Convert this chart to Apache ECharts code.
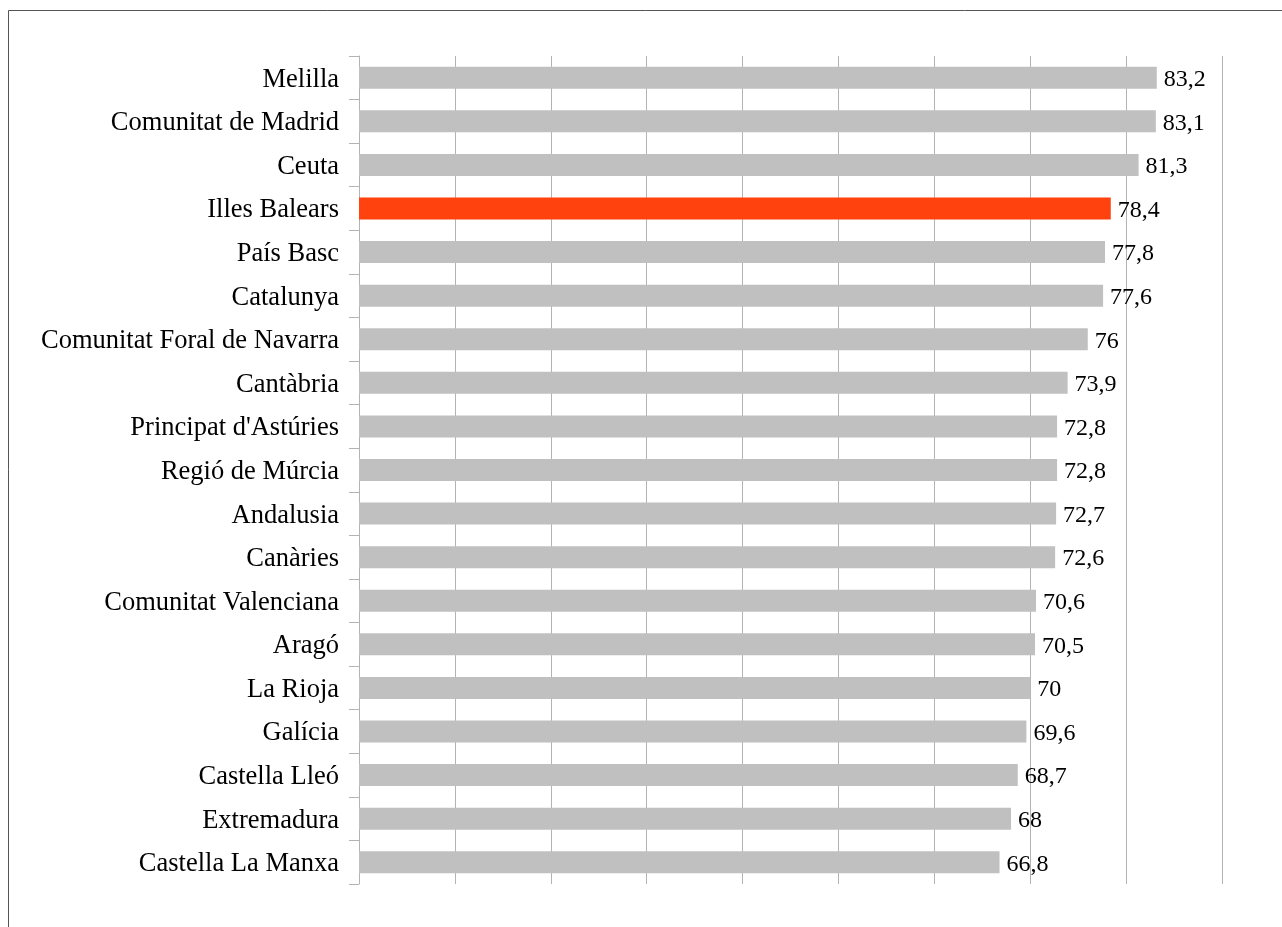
<!DOCTYPE html>
<html>
<head>
<meta charset="utf-8">
<script src="https://cdn.jsdelivr.net/npm/echarts@6/dist/echarts.min.js"></script>
<style>html,body{margin:0;padding:0;background:#fff}#c{width:1282px;height:927px}</style>
</head>
<body>
<div id="c"></div>
<script>
const categories = ["Melilla","Comunitat de Madrid","Ceuta","Illes Balears","País Basc","Catalunya","Comunitat Foral de Navarra","Cantàbria","Principat d'Astúries","Regió de Múrcia","Andalusia","Canàries","Comunitat Valenciana","Aragó","La Rioja","Galícia","Castella Lleó","Extremadura","Castella La Manxa"];
const values = [83.2,83.1,81.3,78.4,77.8,77.6,76,73.9,72.8,72.8,72.7,72.6,70.6,70.5,70,69.6,68.7,68,66.8];
const highlight = "Illes Balears";

const chart = echarts.init(document.getElementById('c'), null, {renderer:'canvas'});
chart.setOption({
  animation:false,
  backgroundColor:'#fff',
  graphic:[{type:'rect',shape:{x:8.5,y:10.5,width:1400,height:1000},style:{fill:'none',stroke:'#555',lineWidth:1},silent:true}],
  grid:{left:359,right:60,top:56,bottom:43,containLabel:false},
  xAxis:{type:'value',min:0,max:90,interval:10,
    axisLine:{show:false},axisTick:{show:false},axisLabel:{show:false},
    splitLine:{show:true,lineStyle:{color:'#b3b3b3',width:1}}},
  yAxis:{type:'category',data:categories,inverse:true,
    axisLine:{show:true,lineStyle:{color:'#b3b3b3',width:1}},
    axisTick:{show:true,length:10,lineStyle:{color:'#b3b3b3'}},
    axisLabel:{margin:20,color:'#000',fontFamily:'Liberation Serif',fontSize:26.5,
      formatter:v=>'{a|'+v+'}',
      rich:{a:{color:'#000',fontFamily:'Liberation Serif',fontSize:26.5,padding:[4,0,0,0]}}}},
  series:[{type:'bar',barWidth:22,
    data:values.map((v,i)=>({value:v,itemStyle:{color:categories[i]===highlight?'#ff420e':'#c0c0c0'}})),
    label:{show:true,position:'right',distance:7,offset:[0,2],color:'#000',fontFamily:'Liberation Serif',fontSize:24,
      formatter:p=>String(p.value).replace('.',',')}}]
});
</script>
</body>
</html>
